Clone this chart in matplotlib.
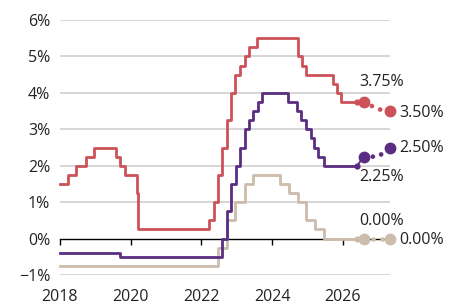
import matplotlib
matplotlib.use("Agg")
import matplotlib.pyplot as plt

plt.rcParams['font.family'] = ['Open Sans', 'DejaVu Sans']
plt.rcParams['font.size'] = 11.5

# policy rates, step dates in decimal years
fed_x = [2018.0, 2018.22, 2018.46, 2018.73, 2018.97, 2019.58, 2019.71, 2019.83,
         2020.17, 2020.21, 2022.21, 2022.34, 2022.46, 2022.57, 2022.72, 2022.84,
         2022.96, 2023.09, 2023.22, 2023.34, 2023.57, 2024.72, 2024.85, 2024.96,
         2025.71, 2025.83, 2025.95, 2026.4]
fed_y = [1.5, 1.75, 2.0, 2.25, 2.5, 2.25, 2.0, 1.75,
         1.25, 0.25, 0.5, 1.0, 1.75, 2.5, 3.25, 4.0,
         4.5, 4.75, 5.0, 5.25, 5.5, 5.0, 4.75, 4.5,
         4.25, 4.0, 3.75, 3.75]

ecb_x = [2018.0, 2019.71, 2022.58, 2022.71, 2022.84, 2022.97, 2023.1, 2023.22,
         2023.35, 2023.47, 2023.59, 2023.71, 2024.45, 2024.71, 2024.8, 2024.96,
         2025.1, 2025.19, 2025.3, 2025.45, 2026.4]
ecb_y = [-0.4, -0.5, 0.0, 0.75, 1.5, 2.0, 2.5, 3.0,
         3.25, 3.5, 3.75, 4.0, 3.75, 3.5, 3.25, 3.0,
         2.75, 2.5, 2.25, 2.0, 2.0]

snb_x = [2018.0, 2022.47, 2022.72, 2022.96, 2023.22, 2023.47, 2024.22, 2024.47,
         2024.72, 2024.96, 2025.22, 2025.47, 2026.4]
snb_y = [-0.75, -0.25, 0.5, 1.0, 1.5, 1.75, 1.5, 1.25,
         1.0, 0.5, 0.25, 0.0, 0.0]

# market expectations
proj_x = [2026.59, 2027.0, 2027.33]
fed_proj = [3.75, 3.55, 3.50]
ecb_proj = [2.25, 2.25, 2.50]
snb_proj = [0.0, 0.0, 0.0]

RED = '#cc5159'
PURPLE = '#5b2d82'
TAN = '#ccbcab'

fig = plt.figure(figsize=(4.67, 3.05), dpi=100)
ax = fig.add_axes([60/467, 1 - 275/305, 330/467, 255/305])
ax.set_xlim(2018, 2027.33)
ax.set_ylim(-1, 6)

for y in range(-1, 7):
    if y != 0:
        ax.axhline(y, color='#cccccc', lw=1.1, zorder=0)

for xs, ys, px, py, c in [(snb_x, snb_y, proj_x, snb_proj, TAN),
                          (ecb_x, ecb_y, proj_x, ecb_proj, PURPLE),
                          (fed_x, fed_y, proj_x, fed_proj, RED)]:
    ax.plot(xs, ys, drawstyle='steps-post', color=c, lw=2.0, zorder=3,
            clip_on=False)
    ax.plot(xs[-1], ys[-1], 'o', color=c, ms=3.5, zorder=3, clip_on=False)
    ax.plot([xs[-1], px[0]], [ys[-1], py[0]], color=c, lw=1.3, zorder=3,
            clip_on=False)
    ax.plot(px, py, color=c, lw=3.4, ls=(0, (0.01, 1.9)),
            dash_capstyle='round', zorder=3, clip_on=False)
    ax.plot([px[0], px[-1]], [py[0], py[-1]], 'o', color=c, ms=7.5,
            zorder=4, clip_on=False)

# value labels
lab = dict(fontsize=11.5, color='#222222', va='center', ha='left')
ax.text(2026.45, 4.31, '3.75%', **lab)
ax.text(2027.6, 3.44, '3.50%', **lab)
ax.text(2027.6, 2.49, '2.50%', **lab)
ax.text(2026.45, 1.70, '2.25%', **lab)
ax.text(2026.45, 0.49, '0.00%', **lab)
ax.text(2027.6, -0.03, '0.00%', **lab)

for s in ['top', 'right', 'left']:
    ax.spines[s].set_visible(False)
ax.spines['bottom'].set_position(('data', 0))
ax.spines['bottom'].set_color('black')
ax.spines['bottom'].set_linewidth(1.0)
ax.spines['bottom'].set_zorder(2)

ax.set_xticks([2018, 2020, 2022, 2024, 2026])
ax.set_xticklabels(['2018', '2020', '2022', '2024', '2026'])
ax.tick_params(axis='x', direction='out', length=4, width=1, color='black',
               pad=32, labelsize=11.5, labelcolor='#222222')
ax.set_yticks(range(-1, 7))
ax.set_yticklabels(['\u22121%', '0%', '1%', '2%', '3%', '4%', '5%', '6%'])
ax.tick_params(axis='y', length=0, pad=7, labelsize=11.5, labelcolor='#222222')

fig.savefig('out.png', dpi=100)
